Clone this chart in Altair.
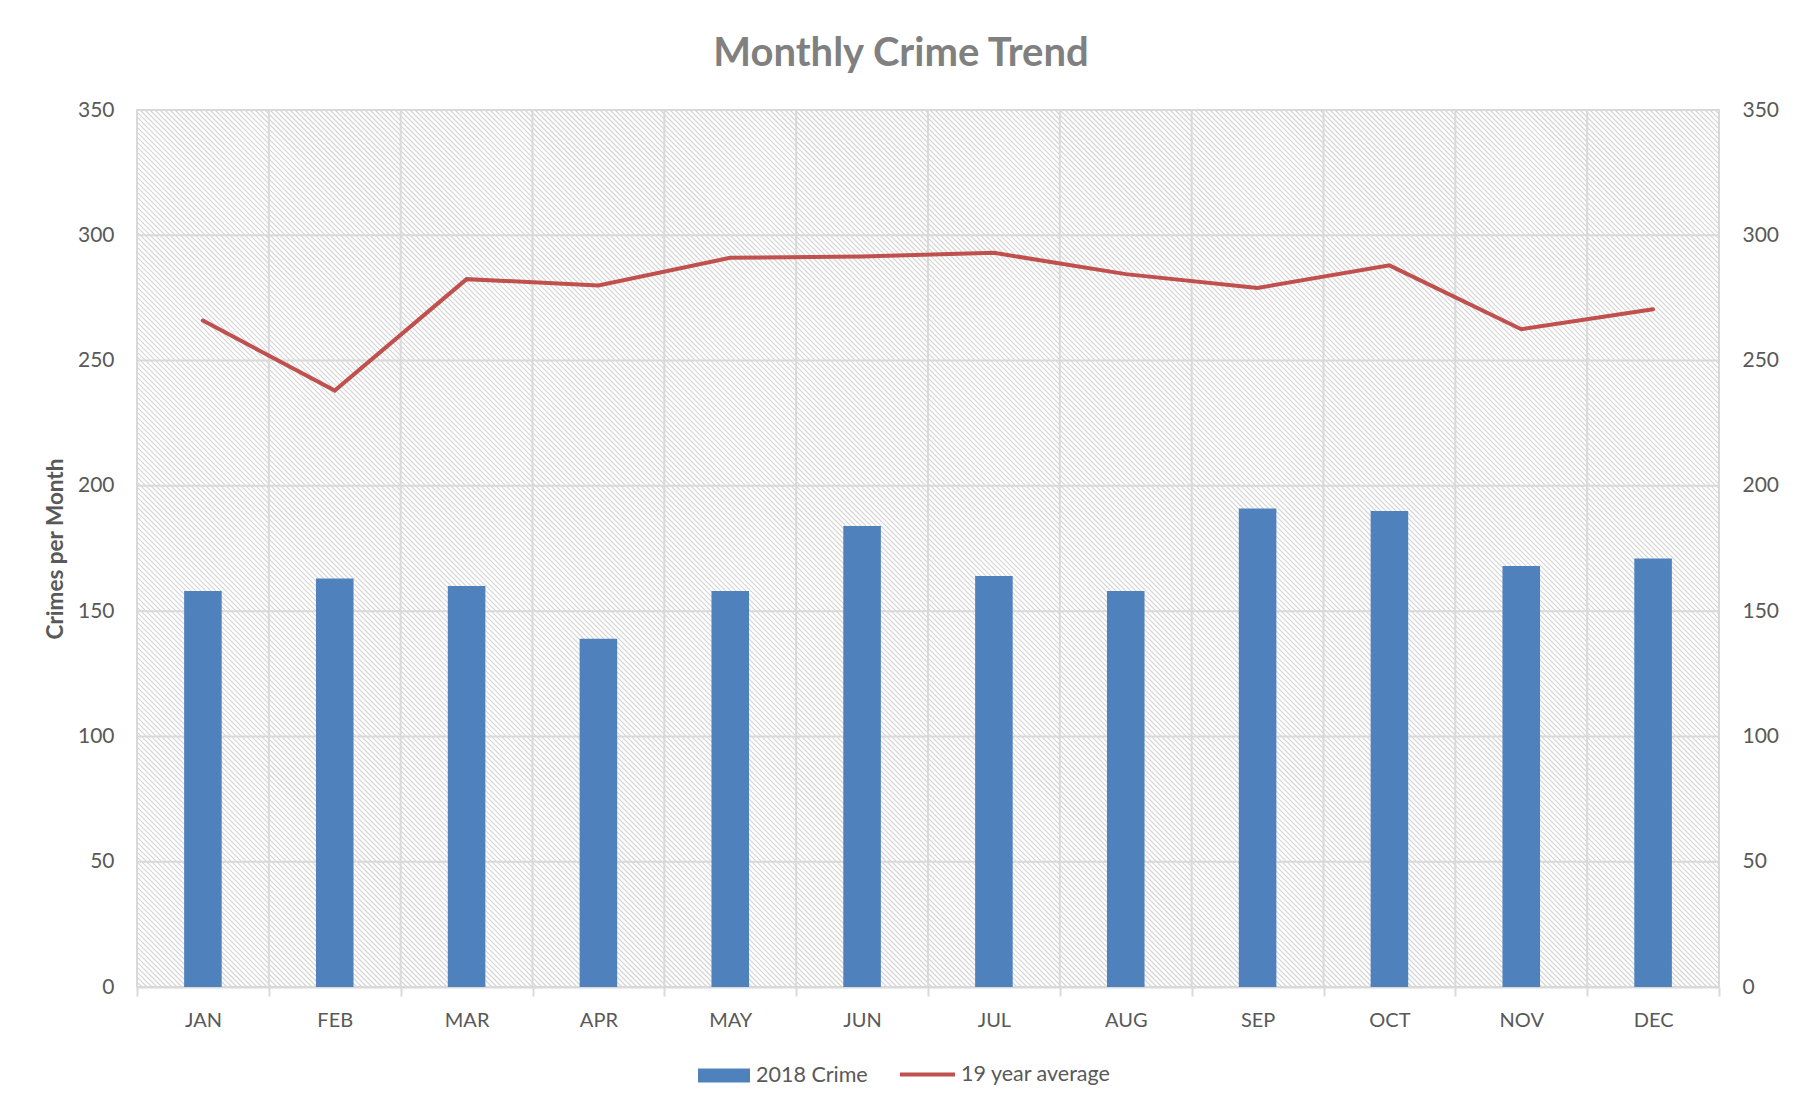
import altair as alt
import pandas as pd

# ---- data ----
months = ["JAN", "FEB", "MAR", "APR", "MAY", "JUN", "JUL", "AUG", "SEP", "OCT", "NOV", "DEC"]
crime_2018 = [158, 163, 160, 139, 158, 184, 164, 158, 191, 190, 168, 171]
avg_19yr = [266, 238, 282.5, 280, 291, 291.5, 293, 284.5, 279, 288, 262.5, 270.5]
y_ticks = [0, 50, 100, 150, 200, 250, 300, 350]
series_names = ["2018 Crime", "19 year average"]

# ---- layout / style ----
W, H = 1582, 877
HATCH_STEP = 5
GRID = "#d9d9d9"
TEXT = "#595959"
FONT = "Lato"
BLUE = "#4f81bd"
RED = "#c0504d"

df = pd.DataFrame({
    "month": months, "crime": crime_2018, "avg": avg_19yr,
    "s_bar": [series_names[0]] * len(months),
    "s_line": [series_names[1]] * len(months),
})
grid_df = pd.DataFrame({"v": y_ticks})

y_scale = alt.Scale(domain=[0, 350], nice=False, zero=True)
x_scale = alt.Scale(paddingInner=0, paddingOuter=0)

x_axis = alt.Axis(
    title=None, orient="bottom", grid=False, tickBand="extent",
    domainColor=GRID, domainWidth=2, tickColor=GRID, tickWidth=2, tickSize=9,
    labelFont=FONT, labelFontSize=20, labelColor=TEXT, labelPadding=14, labelAngle=0,
)
left_axis = alt.Axis(
    orient="left", values=y_ticks, grid=False, domain=False, ticks=False,
    labelFont=FONT, labelFontSize=21, labelColor=TEXT, labelPadding=23,
    title="Crimes per Month", titleFont=FONT, titleFontSize=22.5, titleFontWeight="bold",
    titleColor=TEXT, titleX=-82, titleY=H / 2, titleAlign="center", titleBaseline="middle",
    titleAngle=270,
)
right_axis = alt.Axis(
    orient="right", values=y_ticks, grid=False, domain=False, ticks=False,
    labelFont=FONT, labelFontSize=21, labelColor=TEXT, labelPadding=23, title=None,
)

x_enc = alt.X("month:N", sort=months, scale=x_scale, axis=x_axis)

# diagonal hatch background
hatch = (
    alt.Chart(alt.sequence(0, int((W + H) / HATCH_STEP) + 2, 1, as_="i"))
    .transform_calculate(
        hx=f"datum.i * {HATCH_STEP} - {H}",
        hx2=f"datum.i * {HATCH_STEP}",
        hy="0",
        hy2=f"{H}",
    )
    .mark_rule(stroke="#d4d4d4", strokeWidth=1.2, clip=True)
    .encode(
        x=alt.X("hx:Q", scale=None, axis=None),
        x2="hx2:Q",
        y=alt.Y("hy:Q", scale=None, axis=None),
        y2="hy2:Q",
    )
)

hgrid = alt.Chart(grid_df).mark_rule(stroke=GRID, strokeWidth=2).encode(
    y=alt.Y("v:Q", scale=y_scale, axis=None)
)

vgrid = alt.Chart(df).mark_rule(stroke=GRID, strokeWidth=2).encode(
    x=alt.X("month:N", sort=months, scale=x_scale, axis=x_axis, bandPosition=0)
)

bars = alt.Chart(df).mark_bar(width=alt.RelativeBandSize(0.285)).encode(
    x=x_enc,
    y=alt.Y("crime:Q", scale=y_scale, axis=left_axis),
    fill=alt.Fill(
        "s_bar:N",
        scale=alt.Scale(domain=[series_names[0]], range=[BLUE]),
        legend=alt.Legend(
            title=None, orient="none", legendX=561, legendY=939.5,
            symbolType="M-1,-0.27H1V0.27H-1Z", symbolSize=2704, symbolStrokeWidth=0,
            labelFont=FONT, labelFontSize=21.5, labelColor=TEXT, labelOffset=6, labelLimit=400,
        ),
    ),
)

line = alt.Chart(df).mark_line(strokeWidth=4, strokeCap="round").encode(
    x=x_enc,
    y=alt.Y("avg:Q", scale=y_scale, axis=right_axis),
    stroke=alt.Stroke(
        "s_line:N",
        scale=alt.Scale(domain=[series_names[1]], range=[RED]),
        legend=alt.Legend(
            title=None, orient="none", legendX=761, legendY=935,
            symbolType="stroke", symbolSize=3025, symbolStrokeWidth=4,
            labelFont=FONT, labelFontSize=21.5, labelColor=TEXT, labelOffset=4, labelLimit=400,
        ),
    ),
)

chart = (
    alt.layer(hatch, hgrid, vgrid, bars, line)
    .resolve_scale(y="independent")
    .properties(
        width=W,
        height=H,
        autosize=alt.AutoSizeParams(type="none"),
        padding={"left": 129, "top": 102, "right": 70, "bottom": 115},
        title=alt.TitleParams(
            "Monthly Crime Trend", font=FONT, fontSize=40, fontWeight="bold",
            color="#808080", anchor="middle", dx=-27, offset=25,
        ),
        background="white",
    )
    .configure_view(stroke=GRID, strokeWidth=2)
)

chart.save("out.html", embed_options={"renderer": "svg", "actions": False})
